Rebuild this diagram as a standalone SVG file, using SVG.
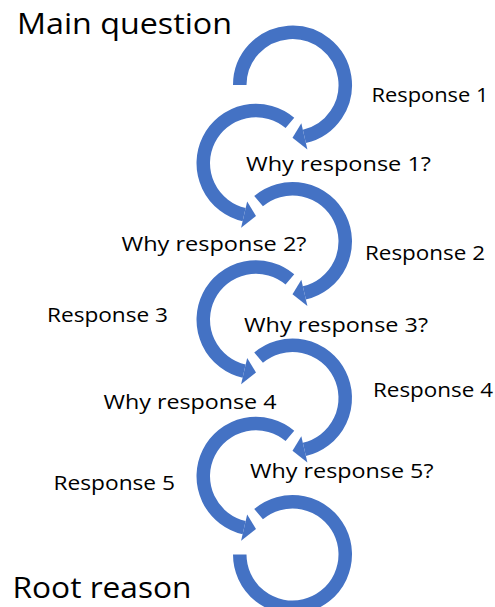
<svg xmlns="http://www.w3.org/2000/svg" width="495" height="607" viewBox="0 0 495 607">
<style>
  .arc { fill: none; stroke: #4472C4; stroke-width: 13.5; stroke-linecap: butt; }
  .head { fill: #4472C4; stroke: none; }
  .big { font-family: "Open Sans", "Noto Sans", sans-serif; font-size: 29.5px; fill: #000; }
  .lbl { font-family: "Open Sans", "Noto Sans", sans-serif; font-size: 20px; fill: #000; }
</style>
<rect width="495" height="607" fill="#fff"/>
<g id="connectors">
  <g id="arrow1">
    <path class="arc" d="M239.75,85 A52.75,52.75 0 1 1 304.37,136.40"/>
    <polygon class="head" points="301.33,123.24 292.5,137.75 307.40,149.55"/>
  </g>
  <g id="arrow2">
    <path class="arc" d="M289.91,122.84 A52.75,52.75 0 1 0 244.13,214.65"/>
    <polygon class="head" points="247.17,201.49 256,216 241.10,227.80"/>
  </g>
  <g id="arrow3">
    <path class="arc" d="M258.59,201.09 A52.75,52.75 0 1 1 304.37,292.90"/>
    <polygon class="head" points="301.33,279.74 292.5,294.25 307.40,306.05"/>
  </g>
  <g id="arrow4">
    <path class="arc" d="M289.91,279.34 A52.75,52.75 0 1 0 244.13,371.15"/>
    <polygon class="head" points="247.17,357.99 256,372.5 241.10,384.30"/>
  </g>
  <g id="arrow5">
    <path class="arc" d="M258.59,357.59 A52.75,52.75 0 1 1 304.37,449.40"/>
    <polygon class="head" points="301.33,436.24 292.5,450.75 307.40,462.55"/>
  </g>
  <g id="arrow6">
    <path class="arc" d="M289.91,435.84 A52.75,52.75 0 1 0 244.13,527.65"/>
    <polygon class="head" points="247.17,514.49 256,529 241.10,540.80"/>
  </g>
  <g id="arrow7">
    <path class="arc" d="M258.59,514.09 A52.75,52.75 0 1 1 239.75,554.5"/>
  </g>
</g>
<g id="main-question"><text class="big" x="17" y="34" textLength="215" lengthAdjust="spacingAndGlyphs">Main question</text></g>
<g id="response-1"><text class="lbl" x="371.5" y="102" textLength="117" lengthAdjust="spacingAndGlyphs">Response 1</text></g>
<g id="why-response-1"><text class="lbl" x="246" y="171" textLength="185" lengthAdjust="spacingAndGlyphs">Why response 1?</text></g>
<g id="why-response-2"><text class="lbl" x="121.5" y="251" textLength="185" lengthAdjust="spacingAndGlyphs">Why response 2?</text></g>
<g id="response-2"><text class="lbl" x="365" y="260" textLength="120" lengthAdjust="spacingAndGlyphs">Response 2</text></g>
<g id="response-3"><text class="lbl" x="47" y="321.5" textLength="121" lengthAdjust="spacingAndGlyphs">Response 3</text></g>
<g id="why-response-3"><text class="lbl" x="244" y="331.5" textLength="184" lengthAdjust="spacingAndGlyphs">Why response 3?</text></g>
<g id="response-4"><text class="lbl" x="373" y="397" textLength="120" lengthAdjust="spacingAndGlyphs">Response 4</text></g>
<g id="why-response-4"><text class="lbl" x="103.5" y="408.5" textLength="173" lengthAdjust="spacingAndGlyphs">Why response 4</text></g>
<g id="why-response-5"><text class="lbl" x="250" y="477.5" textLength="183.5" lengthAdjust="spacingAndGlyphs">Why response 5?</text></g>
<g id="response-5"><text class="lbl" x="53.5" y="490" textLength="121.5" lengthAdjust="spacingAndGlyphs">Response 5</text></g>
<g id="root-reason"><text class="big" x="12.5" y="597.5" textLength="179" lengthAdjust="spacingAndGlyphs">Root reason</text></g>
</svg>
